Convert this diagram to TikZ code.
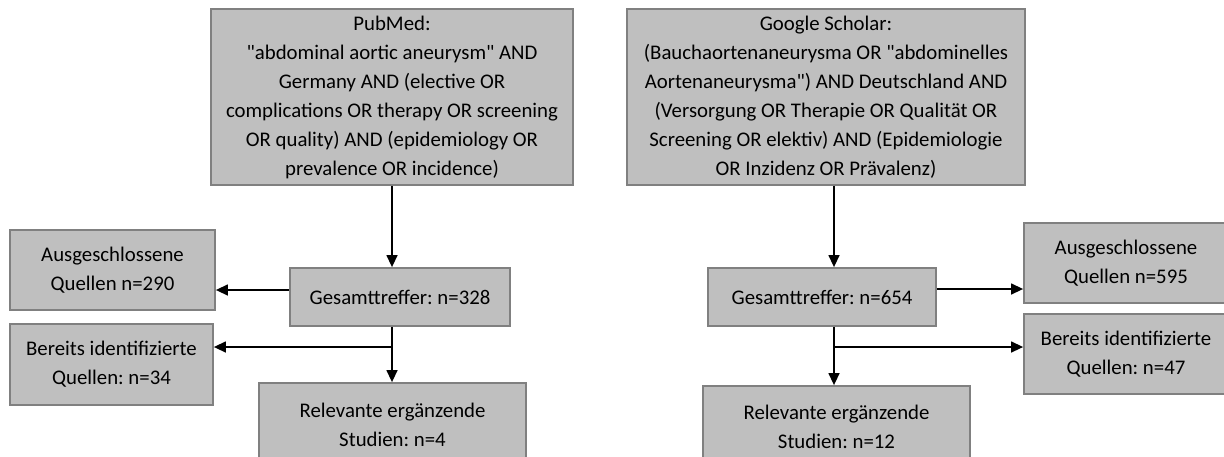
\documentclass[tikz,border=0pt]{standalone}
\usepackage{fontspec}
\setmainfont{Carlito}[Ligatures=TeXOff]
\usepackage{tikz}
\usetikzlibrary{positioning, arrows.meta, calc}
\definecolor{boxgray}{HTML}{BFBFBF}
\definecolor{boxedge}{HTML}{808080}
\frenchspacing

\begin{document}
\begin{tikzpicture}[x=1pt,y=-1pt,
  box/.style={draw=boxedge, line width=1.8pt, fill=boxgray, align=center, inner sep=0pt,
    font=\fontsize{20.8}{29}\selectfont},
  arr/.style={line width=1.4pt, -{Triangle[length=12pt,width=11pt]}}]
\useasboundingbox (0,0) rectangle (1224,456);
% PubMed branch
\node[box, minimum width=362, minimum height=176] (pubmed) at (392,97)
  {PubMed:\\"abdominal aortic aneurysm" AND\\Germany AND (elective OR\\complications OR therapy OR screening\\OR quality) AND (epidemiology OR\\prevalence OR incidence)};
\node[box, minimum width=220, minimum height=58] (gesL) at (400,297) {Gesamttreffer: n=328};
\node[box, minimum width=205, minimum height=80] (exclL) at (112.5,270) {Ausgeschlossene\\Quellen n=290};
\node[box, minimum width=203, minimum height=81] (identL) at (111.5,364.5) {Bereits identifizierte\\Quellen: n=34};
\node[box, minimum width=267, minimum height=83] (relL) at (392.5,424.5) {Relevante ergänzende\\Studien: n=4};
\coordinate (splitL) at (392,347);
\coordinate (exitL) at ([yshift=7pt]gesL.west);
\draw[arr] (pubmed.south) -- (pubmed.south |- gesL.north);
\draw[arr] (exitL) -- (exitL -| exclL.east);
\draw[line width=1.4pt] (gesL.south -| splitL) -- (splitL);
\draw[arr] (splitL) -- (splitL -| identL.east);
\draw[arr] (splitL) -- (splitL |- relL.north);
% Google Scholar branch
\node[box, minimum width=398, minimum height=176] (scholar) at (826,97)
  {Google Scholar:\\(Bauchaortenaneurysma OR "abdominelles\\Aortenaneurysma") AND Deutschland AND\\(Versorgung OR Therapie OR Qualität OR\\Screening OR elektiv) AND (Epidemiologie\\OR Inzidenz OR Prävalenz)};
\node[box, minimum width=228, minimum height=58] (gesR) at (822,297) {Gesamttreffer: n=654};
\node[box, minimum width=204, minimum height=80] (exclR) at (1126,263) {Ausgeschlossene\\Quellen n=595};
\node[box, minimum width=204, minimum height=80] (identR) at (1126,354) {Bereits identifizierte\\Quellen: n=47};
\node[box, minimum width=267, minimum height=82] (relR) at (836.5,427) {Relevante ergänzende\\Studien: n=12};
\coordinate (splitR) at (834,347);
\coordinate (exitR) at ([yshift=8pt]gesR.east);
\draw[arr] (scholar.south -| splitR) -- (gesR.north -| splitR);
\draw[arr] (exitR) -- (exitR -| exclR.west);
\draw[line width=1.4pt] (gesR.south -| splitR) -- (splitR);
\draw[arr] (splitR) -- (splitR -| identR.west);
\draw[arr] (splitR) -- (splitR |- relR.north);
\end{tikzpicture}
\end{document}
